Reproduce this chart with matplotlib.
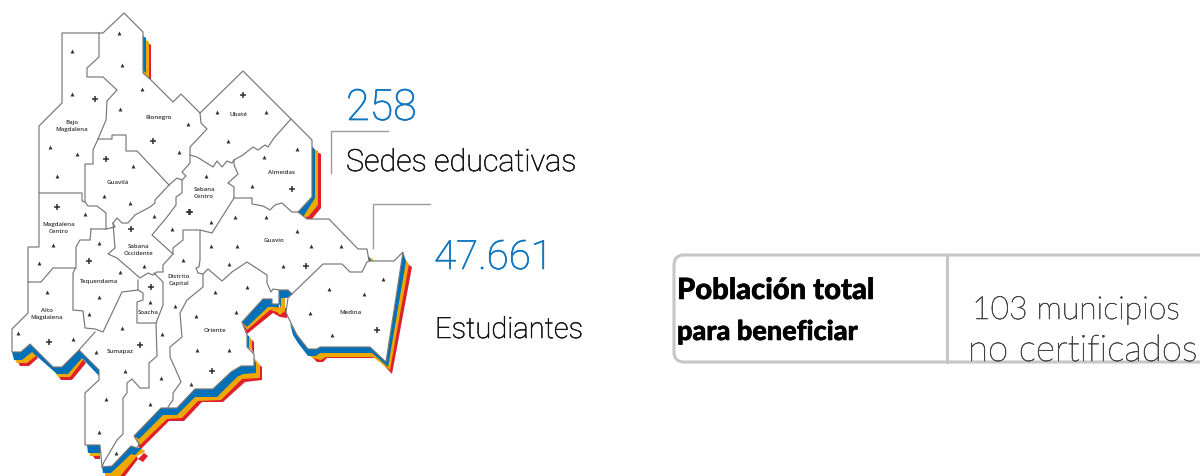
import matplotlib
matplotlib.use("Agg")
import matplotlib.pyplot as plt
import matplotlib.patheffects as pe
from matplotlib.patches import FancyBboxPatch, Polygon

# map, in image pixels
outline = [(124,13),(143,32),(143,73),(151,80),(173,102),(181,94),(200,113),(243,71),(291,119),(312,140),
           (312,197),(298,212),(307,219),(329,219),(358,249),(367,249),(369,261),(394,261),(403,252),(386,362),
           (370,347),(320,347),(317,349),(308,349),(297,335),(288,317),(286,312),(288,298),(292,294),(288,290),
           (279,290),(279,304),(272,304),(272,299),(263,299),(242,322),(247,335),(247,347),(254,354),(254,366),
           (241,366),(231,372),(213,389),(195,389),(177,408),(161,408),(134,436),(139,444),(137,448),(131,446),
           (112,466),(102,467),(100,445),(85,445),(85,393),(99,380),(99,370),(79,350),(62,367),(53,367),
           (30,344),(21,352),(12,352),(12,329),(28,313),(28,247),(39,247),(39,126),(62,103),(62,33),(103,33)]

boundaries = [
    [(99,33),(99,57),(87,68),(87,77),(103,77),(117,90),(107,101),(106,120),(98,139),(93,150),(93,164),(85,164),
     (85,202),(88,206),(97,206),(106,213),(106,229)],
    [(39,193),(82,193),(82,201),(85,202)],
    [(98,139),(112,139),(112,135),(126,135),(126,151),(137,151),(169,185)],
    [(200,113),(201,123),(207,129),(190,147),(190,163),(182,172),(186,176),(182,180),(177,178),(169,185)],
    [(169,185),(155,200),(155,203),(150,207),(135,215),(128,223),(122,223),(117,218),(113,223),(115,227),(106,229),(91,229)],
    [(182,180),(182,193),(176,197),(176,205),(167,217),(152,235),(173,254)],
    [(113,223),(115,248),(108,254),(117,258),(140,278),(148,273),(153,275),(157,272),(163,272),(163,265),(173,254),(173,248),(183,240),(183,230),(199,230)],
    [(154,273),(163,282),(163,305),(156,323),(157,356),(149,363),(149,388),(140,388),(132,379),(127,383),(127,393),
     (123,398),(123,434),(117,440),(107,457),(104,462),(102,467)],
    [(138,280),(138,290),(143,293),(143,300),(137,302),(137,323),(156,323)],
    [(138,290),(122,292),(103,332),(95,329),(85,328),(83,311),(73,310),(73,273),(76,267),(76,247),(80,240),(90,240),(91,229)],
    [(95,332),(79,350)],
    [(28,282),(41,282),(53,268),(76,268)],
    [(190,155),(197,157),(213,167),(217,161),(222,167),(227,161),(232,163),(234,160),(243,155),(253,147),(258,150),
     (265,145),(268,147),(274,138),(291,119)],
    [(234,160),(234,165),(238,174),(228,183),(234,187),(234,198),(217,225),(212,233),(200,230),(200,260),(199,267),
     (196,268),(198,273),(203,274),(208,269),(222,281),(232,272),(247,262),(267,275),(267,283),(271,292),(273,289),(279,290)],
    [(234,198),(252,198),(252,204),(263,206),(270,210),(275,205),(282,203),(292,212),(298,212)],
    [(203,274),(203,287),(187,300),(180,313),(182,337),(170,347),(170,357),(175,368),(181,382),(173,393),(173,400),(168,407)],
    [(292,294),(323,264),(342,264),(350,272),(362,272),(367,262),(369,261)],
]

# the coloured edge of the map, drawn red first and blue last
red_bands = [
    [(143,40),(151,45),(151,80),(143,72)],
    [(312,150),(321,154),(321,208),(312,219),(305,219),(312,197)],
    [(405,262),(412,267),(392,374),(377,358),(327,358),(323,362),(317,362),(311,356),(320,347),(370,347),(386,362)],
    [(242,322),(263,299),(279,304),(279,311),(273,313),(247,334)],
    [(273,313),(280,317),(287,318),(287,308),(280,308)],
    [(252,340),(254,342),(254,354),(252,350)],
    [(254,360),(262,367),(262,380),(245,382),(223,402),(202,402),(184,421),(169,421),(140,450),(134,436),(161,408),(177,408),(195,389),(213,389),(231,372),(241,366)],
    [(105,466),(131,446),(138,459),(122,480),(108,480)],
    [(138,459),(144,453),(148,456),(143,462)],
    [(17,360),(20,366),(29,366),(38,358),(34,353),(27,360)],
    [(57,374),(61,380),(72,380),(86,363),(82,358),(68,374)],
    [(93,456),(100,456),(100,459),(95,459)],
]
yellow_bands = [
    [(143,38),(149,42),(149,78),(143,72)],
    [(312,148),(318,151),(318,205),(308,217),(303,216),(312,197)],
    [(370,258),(373,259),(373,261),(370,261)],
    [(404,258),(409,264),(390,370),(373,357),(326,357),(321,360),(312,358),(308,352),(320,347),(370,347),(386,362)],
    [(242,322),(263,299),(279,304),(279,307),(270,310),(247,330)],
    [(270,310),(277,312),(280,315),(285,311),(285,298),(280,298),(280,307)],
    [(249,336),(252,340),(252,350),(249,348)],
    [(254,358),(260,365),(260,378),(242,379),(221,400),(198,401),(182,418),(167,419),(140,445),(134,436),(161,408),(177,408),(195,389),(213,389),(231,372),(241,366)],
    [(105,466),(131,446),(137,456),(117,480),(105,480)],
    [(137,448),(144,450),(145,452),(137,456),(135,454)],
    [(14,358),(24,358),(32,351),(36,356),(27,363),(17,363)],
    [(55,372),(66,372),(80,354),(83,360),(70,377),(58,377)],
    [(90,453),(100,453),(100,456),(90,456)],
]
blue_bands = [
    [(143,36),(146,38),(146,73),(143,70)],
    [(312,146),(315,150),(315,198),(303,217),(298,212),(312,197)],
    [(368,255),(370,258),(371,261),(369,261)],
    [(403,252),(406,261),(388,367),(372,353),(320,353),(316,356),(308,356),(298,343),(293,335),(290,323),(297,335),(308,349),(317,349),(320,347),(370,347),(386,362)],
    [(279,290),(288,290),(292,294),(287,298),(281,298),(281,307),(279,304)],
    [(242,322),(263,299),(272,299),(272,304),(279,304),(279,307),(268,307),(247,327)],
    [(247,335),(249,336),(249,348),(247,347)],
    [(254,360),(256,363),(256,373),(243,374),(237,377),(217,397),(195,397),(177,415),(163,415),(139,439),(134,436),(161,408),(177,408),(195,389),(213,389),(231,372),(241,366),(254,366)],
    [(102,467),(112,466),(131,446),(137,448),(142,448),(135,455),(131,454),(111,473),(103,473)],
    [(12,352),(21,352),(30,344),(53,367),(62,367),(79,350),(99,370),(99,376),(82,358),(68,374),(57,374),(32,352),(22,360),(14,360)],
    [(87,445),(100,445),(100,453),(88,453)],
]

towns = [(119,33),(72,51),(122,65),(142,89),(72,94),(120,109),(188,124),(50,147),(77,154),(179,152),(133,166),(57,176),
         (206,176),(104,196),(130,203),(154,216),(85,214),(172,229),(217,112),(266,112),(228,141),(297,149),(264,157),
         (252,186),(211,222),(235,217),(266,217),(297,231),(211,246),(237,246),(311,246),(341,246),(229,264),(283,266),
         (383,279),(53,245),(99,243),(39,263),(144,266),(183,260),(120,272),(47,292),(99,297),(150,302),(175,306),(89,314),
         (196,316),(122,328),(18,333),(73,339),(162,334),(197,350),(96,352),(125,371),(161,378),(191,384),(106,399),(150,404),
         (99,432),(116,453),(329,289),(364,294),(215,292),(247,287),(236,312),(310,313),(332,335),(229,350)]
capitals = [(95,99),(153,141),(106,159),(57,207),(131,229),(189,212),(243,95),(292,189),(190,212),(306,266),(89,261),
            (151,287),(140,345),(49,342),(377,330),(212,371)]

provinces = ["Bajo\nMagdalena","Rionegro","Guavilá","Ubaté","Almeidas","Sabana\nCentro","Magdalena\nCentro",
             "Sabana\nOccidente","Tequendama","Distrito\nCapital","Alto\nMagdalena","Soacha","Sumapaz","Oriente","Medina","Guavio"]
province_xy = [(72,126),(159,117),(118,182),(238,114),(281,172),(204,193),(59,228),(138,250),(99,281),(179,280),(47,314),
               (148,313),(120,352),(215,330),(350,312),(274,240)]

BLUE = "#0071b9"
YELLOW = "#eda900"
RED = "#e01f2d"
LINE = "#767676"

def thicken(color, width=0.35):
    # the light fonts come out thinner than in the picture
    return [pe.withStroke(linewidth=width, foreground=color)]

fig = plt.figure(figsize=(12, 4.76), dpi=100)
ax = fig.add_axes([0, 0, 1, 1])
ax.set_xlim(0, 1200)
ax.set_ylim(476, 0)
ax.axis("off")

for bands, color, z in [(red_bands, RED, 1), (yellow_bands, YELLOW, 2), (blue_bands, BLUE, 3)]:
    for pts in bands:
        ax.add_patch(Polygon(pts, closed=True, fc=color, ec="none", zorder=z))

ax.add_patch(Polygon(outline, closed=True, fc="white", ec=LINE, lw=0.85, zorder=4))
for line in boundaries:
    ax.plot([p[0] for p in line], [p[1] for p in line], color=LINE, lw=0.85, zorder=5)

ax.scatter([p[0] for p in towns], [p[1] for p in towns], marker="^", s=8, color="#333333", lw=0, zorder=6)
ax.scatter([p[0] for p in capitals], [p[1] for p in capitals], marker="+", s=20, color="#333333", lw=1.1, zorder=6)

for name, (x, y) in zip(provinces, province_xy):
    ax.text(x, y, name, fontsize=4.4, family="Open Sans", weight="semibold", color="#333333", ha="center", va="center",
            linespacing=1.4, zorder=7)

# callouts
ax.plot([388, 331, 331], [131, 131, 173], color="#9a9a9a", lw=1.0)
ax.plot([430, 373, 373], [204, 204, 248], color="#9a9a9a", lw=1.0)
ax.text(346, 120, "258", fontsize=31, family="Roboto", weight="light", color="#0f76c1", va="baseline",
        path_effects=thicken("#0f76c1", 0.5))
ax.text(346, 171, "Sedes educativas", fontsize=22, family="Roboto", weight="light", color="#111111", va="baseline",
        path_effects=thicken("#111111"))
ax.text(434, 269, "47.661", fontsize=29, family="Roboto", weight="light", color="#0f76c1", va="baseline",
        path_effects=thicken("#0f76c1", 0.5))
ax.text(435, 338, "Estudiantes", fontsize=21, family="Roboto", weight="light", color="#111111", va="baseline",
        path_effects=thicken("#111111"))

# box on the right, runs off the page
ax.add_patch(FancyBboxPatch((674, 255), 620, 107, boxstyle="round,pad=0,rounding_size=10", fc="none",
                            ec="#c6c6c6", lw=2.2, mutation_aspect=1))
ax.plot([947, 947], [255, 362], color="#c6c6c6", lw=2.2)
ax.text(677, 299, "Población total", fontsize=21, family="Lato", weight="black", color="black", va="baseline",
        path_effects=thicken("black", 0.4))
ax.text(677, 340, "para beneficiar", fontsize=19.5, family="Lato", weight="black", color="black", va="baseline",
        path_effects=thicken("black", 0.4))
ax.text(972, 319, "103 municipios", fontsize=23, family="Lato", weight="light", color="#444444", va="baseline",
        path_effects=thicken("#444444", 0.45))
ax.text(968, 361, "no certificados", fontsize=26.5, family="Lato", weight="light", color="#444444", va="baseline",
        path_effects=thicken("#444444", 0.45))

fig.savefig("out.png", dpi=100)
